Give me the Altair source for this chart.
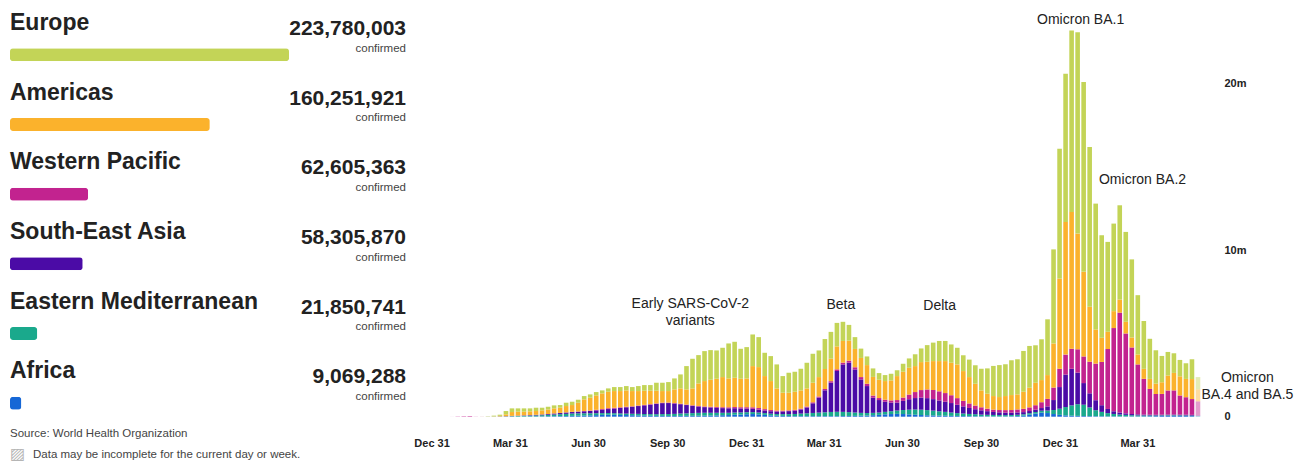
import altair as alt
import pandas as pd

# ---------------- left panel data ----------------
REGIONS = ["Europe", "Americas", "Western Pacific", "South-East Asia",
           "Eastern Mediterranean", "Africa"]
TOTALS = [223780003, 160251921, 62605363, 58305870, 21850741, 9069288]
COLORS = ["#c3d457", "#fbb22c", "#c2238f", "#4b0ba6", "#1aa98c", "#1667d6"]
STACK_ORDER = ["Africa", "Eastern Mediterranean", "South-East Asia",
               "Western Pacific", "Americas", "Europe"]

# ---------------- weekly new cases (millions), weeks from 2020-01-06 ----------------
AFR = [0, 0, 0, 0, 0, 0, 0, 0, 0, 0.001,
       0.002, 0.004, 0.007, 0.01, 0.012, 0.014, 0.017, 0.02, 0.025, 0.03,
       0.035, 0.04, 0.05, 0.06, 0.07, 0.08, 0.095, 0.11, 0.12, 0.12,
       0.11, 0.1, 0.09, 0.08, 0.07, 0.06, 0.05, 0.05, 0.045, 0.045,
       0.05, 0.05, 0.055, 0.06, 0.065, 0.07, 0.08, 0.09, 0.1, 0.12,
       0.13, 0.15, 0.16, 0.14, 0.11, 0.08, 0.06, 0.05, 0.04, 0.035,
       0.035, 0.035, 0.035, 0.035, 0.035, 0.035, 0.035, 0.04, 0.045, 0.05,
       0.06, 0.07, 0.09, 0.11, 0.14, 0.16, 0.17, 0.16, 0.14, 0.12,
       0.1, 0.085, 0.075, 0.065, 0.06, 0.05, 0.045, 0.04, 0.035, 0.03,
       0.025, 0.022, 0.02, 0.02, 0.02, 0.025, 0.04, 0.07, 0.13, 0.19,
       0.25, 0.22, 0.16, 0.11, 0.08, 0.06, 0.05, 0.04, 0.035, 0.03,
       0.03, 0.025, 0.025, 0.02, 0.02, 0.02, 0.02, 0.025, 0.03, 0.035,
       0.045, 0.05, 0.05, 0.045, 0.04, 0.035, 0.02]

EMR = [0, 0, 0, 0, 0, 0, 0, 0.001, 0.003, 0.006,
       0.01, 0.017, 0.025, 0.035, 0.045, 0.055, 0.06, 0.07, 0.085, 0.1,
       0.115, 0.13, 0.14, 0.14, 0.135, 0.125, 0.115, 0.105, 0.1, 0.09,
       0.085, 0.085, 0.085, 0.09, 0.09, 0.095, 0.1, 0.105, 0.115, 0.125,
       0.14, 0.15, 0.16, 0.17, 0.17, 0.165, 0.155, 0.145, 0.135, 0.13,
       0.125, 0.12, 0.115, 0.11, 0.105, 0.1, 0.1, 0.105, 0.115, 0.13,
       0.15, 0.17, 0.19, 0.21, 0.23, 0.25, 0.26, 0.25, 0.23, 0.2,
       0.17, 0.15, 0.14, 0.14, 0.15, 0.17, 0.2, 0.24, 0.28, 0.31,
       0.32, 0.31, 0.29, 0.26, 0.23, 0.2, 0.17, 0.15, 0.13, 0.12,
       0.1, 0.09, 0.085, 0.08, 0.075, 0.075, 0.075, 0.075, 0.08, 0.09,
       0.11, 0.15, 0.24, 0.37, 0.5, 0.62, 0.7, 0.68, 0.52, 0.36,
       0.26, 0.19, 0.14, 0.11, 0.09, 0.07, 0.06, 0.05, 0.045, 0.04,
       0.035, 0.035, 0.035, 0.035, 0.035, 0.03, 0.02]

SEAR = [0, 0, 0, 0, 0, 0, 0, 0, 0.0005, 0.001,
        0.002, 0.004, 0.007, 0.011, 0.016, 0.022, 0.03, 0.04, 0.05, 0.06,
        0.07, 0.08, 0.09, 0.1, 0.12, 0.14, 0.17, 0.2, 0.24, 0.28,
        0.33, 0.38, 0.42, 0.47, 0.52, 0.57, 0.62, 0.66, 0.66, 0.62,
        0.56, 0.5, 0.44, 0.38, 0.34, 0.32, 0.3, 0.28, 0.27, 0.26,
        0.24, 0.22, 0.2, 0.18, 0.16, 0.15, 0.15, 0.16, 0.18, 0.2,
        0.25, 0.35, 0.58, 0.9, 1.32, 1.76, 2.45, 2.85, 2.97, 2.59,
        2.01, 1.62, 0.91, 0.75, 0.61, 0.52, 0.48, 0.55, 0.63, 0.69,
        0.73, 0.72, 0.69, 0.65, 0.61, 0.57, 0.5, 0.43, 0.36, 0.3,
        0.26, 0.22, 0.18, 0.16, 0.15, 0.14, 0.14, 0.13, 0.13, 0.14,
        0.16, 0.25, 0.6, 1.3, 1.95, 2.2, 1.9, 1.3, 0.85, 0.6,
        0.4, 0.25, 0.16, 0.12, 0.09, 0.07, 0.06, 0.05, 0.045, 0.04,
        0.04, 0.04, 0.045, 0.045, 0.045, 0.045, 0.03]

WPR = [0, 0.0005, 0.002, 0.012, 0.022, 0.03, 0.006, 0.004, 0.003, 0.005,
       0.008, 0.01, 0.012, 0.014, 0.012, 0.01, 0.008, 0.006, 0.006, 0.007,
       0.008, 0.01, 0.012, 0.015, 0.02, 0.025, 0.035, 0.045, 0.05, 0.045,
       0.04, 0.035, 0.03, 0.03, 0.03, 0.03, 0.03, 0.03, 0.03, 0.03,
       0.03, 0.03, 0.03, 0.035, 0.04, 0.045, 0.05, 0.055, 0.06, 0.07,
       0.075, 0.08, 0.09, 0.09, 0.08, 0.07, 0.06, 0.05, 0.045, 0.045,
       0.05, 0.055, 0.06, 0.07, 0.08, 0.09, 0.1, 0.11, 0.12, 0.13,
       0.14, 0.14, 0.13, 0.12, 0.12, 0.13, 0.15, 0.2, 0.28, 0.36,
       0.45, 0.52, 0.55, 0.55, 0.52, 0.47, 0.4, 0.33, 0.27, 0.22,
       0.18, 0.15, 0.14, 0.14, 0.15, 0.16, 0.18, 0.2, 0.22, 0.27,
       0.35, 0.45, 0.75, 1.1, 1.2, 1.2, 1.4, 1.6, 1.9, 2.2,
       2.6, 3.6, 5.0, 6.0, 4.8, 4.0, 3.0, 2.15, 1.55, 1.25,
       1.25, 1.45, 1.45, 1.15, 1.05, 0.95, 0.85]

AMR = [0, 0, 0, 0, 0, 0, 0, 0, 0.001, 0.005,
       0.028, 0.105, 0.229, 0.23, 0.215, 0.219, 0.225, 0.244, 0.274, 0.303,
       0.312, 0.38, 0.408, 0.525, 0.695, 0.77, 0.865, 0.94, 0.99, 1.005,
       0.975, 0.98, 0.915, 0.87, 0.85, 0.805, 0.76, 0.695, 0.69, 0.82,
       0.92, 0.91, 1.015, 1.355, 1.525, 1.62, 1.695, 1.81, 1.735, 1.76,
       1.71, 1.73, 2.475, 2.46, 1.985, 1.74, 1.33, 1.075, 1.06, 1.09,
       1.095, 1.09, 1.175, 1.165, 1.2, 1.35, 1.38, 1.3, 1.2, 1.1,
       1.15, 1.12, 1.12, 1.1, 1.12, 1.2, 1.44, 1.55, 1.61, 1.56,
       1.68, 1.665, 1.735, 1.815, 1.92, 1.95, 2.025, 1.79, 1.585, 1.31,
       1.015, 0.9, 0.815, 0.78, 0.845, 0.9, 0.905, 1.025, 1.18, 1.35,
       1.33, 1.43, 2.65, 5.42, 7.97, 8.22, 6.95, 5.08, 3.3, 2.05,
       1.45, 1.035, 1.015, 0.79, 0.7, 0.6, 0.6, 0.6, 0.6, 0.62,
       0.7, 0.9, 1.05, 1.15, 1.1, 1.2, 0.72]

EUR = [0, 0, 0, 0, 0, 0, 0, 0.003, 0.015, 0.045,
       0.07, 0.2, 0.22, 0.2, 0.2, 0.18, 0.2, 0.16, 0.16, 0.18,
       0.16, 0.2, 0.2, 0.18, 0.2, 0.2, 0.2, 0.18, 0.2, 0.24,
       0.24, 0.26, 0.24, 0.3, 0.34, 0.34, 0.48, 0.5, 0.54, 0.66,
       0.84, 1.4, 1.78, 1.7, 1.8, 1.78, 1.7, 1.76, 2.1, 2.16,
       1.8, 1.88, 1.9, 1.8, 1.4, 1.5, 1.44, 1.0, 1.2, 1.2,
       1.3, 1.54, 1.74, 1.6, 1.8, 1.61, 1.41, 1.15, 0.95, 0.71,
       0.56, 0.52, 0.51, 0.4, 0.36, 0.4, 0.35, 0.48, 0.56, 0.71,
       0.82, 1.0, 1.11, 1.21, 1.21, 1.1, 1.0, 0.95, 1.05, 1.11,
       1.3, 1.52, 1.81, 1.92, 1.91, 2.09, 2.11, 2.45, 2.51, 2.25,
       2.45, 3.35, 5.65, 7.8, 8.9, 10.9, 12.1, 11.4, 9.6, 7.56,
       6.16, 5.4, 5.26, 5.66, 5.4, 4.69, 3.56, 2.875, 2.41, 2.005,
       1.58, 1.415, 1.18, 0.985, 0.94, 1.19, 0.74]

SERIES = {"Africa": AFR, "Eastern Mediterranean": EMR, "South-East Asia": SEAR,
          "Western Pacific": WPR, "Americas": AMR, "Europe": EUR}

FIRST_WEEK = "2020-01-06"
N_WEEKS = len(EUR)
week_start = pd.date_range(FIRST_WEEK, periods=N_WEEKS, freq="7D")
week_mid = week_start + pd.Timedelta(hours=84)

rows = []
for i, reg in enumerate(STACK_ORDER):
    vals = SERIES[reg]
    for k in range(N_WEEKS):
        rows.append({"date": week_mid[k].strftime("%Y-%m-%dT%H:%M:%S"),
                     "region": reg, "value": vals[k], "order": i,
                     "partial": 1 if k == N_WEEKS - 1 else 0})
weekly = pd.DataFrame(rows)

# annotations
ANN_TEXT = ["Early SARS-CoV-2", "variants", "Beta", "Delta", "Omicron BA.1",
            "Omicron BA.2", "Omicron", "BA.4 and BA.5"]
ANN_DATE = ["2020-10-27", "2020-10-27", "2021-04-20", "2021-08-13", "2022-01-24",
            "2022-04-06", "2022-08-06", "2022-08-06"]
ANN_VALUE = [6.77, 5.75, 6.71, 6.65, 23.85, 14.2, 2.34, 1.3]
ann = pd.DataFrame({"text": ANN_TEXT, "date": ANN_DATE, "value": ANN_VALUE})

TICK_DATES = [(2019, 12, 31), (2020, 3, 31), (2020, 6, 30), (2020, 9, 30),
              (2020, 12, 31), (2021, 3, 31), (2021, 6, 30), (2021, 9, 30),
              (2021, 12, 31), (2022, 3, 31)]

color_scale = alt.Scale(domain=REGIONS, range=COLORS)

# ---------------- right: stacked weekly bars ----------------
x_scale = alt.Scale(domain=[alt.DateTime(year=2019, month=12, date=21),
                            alt.DateTime(year=2022, month=6, date=20)])
y_scale = alt.Scale(domain=[0, 24.43], nice=False, zero=True)

x_enc = alt.X("date:T", scale=x_scale,
              axis=alt.Axis(values=[alt.DateTime(year=a, month=b, date=c) for a, b, c in TICK_DATES],
                            format="%b %d", title=None, grid=False, domain=False,
                            ticks=False, labelPadding=21, labelFontSize=11,
                            labelFontWeight="bold", labelColor="#222"))

bars = alt.Chart(weekly).mark_bar(width=4.6).encode(
    x=x_enc,
    y=alt.Y("value:Q", stack="zero", scale=y_scale,
            axis=alt.Axis(orient="right", values=[0, 10, 20], title=None,
                          labelExpr="datum.value == 0 ? '0' : datum.value + 'm'",
                          grid=False, domain=False, ticks=False, labelPadding=12,
                          labelFontSize=11, labelFontWeight="bold", labelColor="#222")),
    color=alt.Color("region:N", scale=color_scale, legend=None),
    order=alt.Order("order:Q", sort="ascending"),
    opacity=alt.condition("datum.partial == 1", alt.value(0.45), alt.value(1.0)),
)

labels = alt.Chart(ann).mark_text(fontSize=14, color="#222", baseline="middle",
                                  align="center").encode(
    x=alt.X("date:T", scale=x_scale),
    y=alt.Y("value:Q", scale=y_scale),
    text="text:N",
)

right = alt.layer(bars, labels).properties(width=794, height=406.7)

# ---------------- left: region totals ----------------
left_df = pd.DataFrame({"region": REGIONS, "total": TOTALS})
y_band = alt.Y("region:N", sort=REGIONS,
               scale=alt.Scale(domain=REGIONS, range=[1, 419],
                               paddingInner=0, paddingOuter=0),
               axis=None)
base = alt.Chart(left_df)

names = base.mark_text(align="left", baseline="middle", dy=-22.8, fontSize=23,
                       fontWeight="bold", color="#222").encode(
    x=alt.value(0), y=y_band, text="region:N")
nums = base.mark_text(align="right", baseline="middle", dy=-16.8, fontSize=21,
                      fontWeight="bold", color="#222").encode(
    x=alt.value(396), y=y_band, text=alt.Text("total:Q", format=","))
conf = base.mark_text(align="right", baseline="middle", dy=2.7, fontSize=11.5,
                      color="#444").encode(
    x=alt.value(396), y=y_band, text=alt.value("confirmed"))
lbars = base.mark_bar(size=13, cornerRadius=3, yOffset=9).encode(
    x=alt.X("total:Q", scale=alt.Scale(domain=[0, TOTALS[0]], range=[0, 279]), axis=None),
    y=y_band,
    color=alt.Color("region:N", scale=color_scale, legend=None))

notes = pd.DataFrame({"t": ["Source: World Health Organization"]})
src = alt.Chart(notes).mark_text(align="left", baseline="middle", fontSize=11.5,
                                 color="#444").encode(
    x=alt.value(0), y=alt.value(424), text="t:N")
disc_df = pd.DataFrame({"t": ["Data may be incomplete for the current day or week."]})
disc = alt.Chart(disc_df).mark_text(align="left", baseline="middle", fontSize=11.5,
                                    color="#444").encode(
    x=alt.value(23), y=alt.value(445), text="t:N")
icon_df = pd.DataFrame({"t": ["▨"]})
icon = alt.Chart(icon_df).mark_text(align="left", baseline="middle", fontSize=16,
                                    color="#b5b5b5", font="DejaVu Sans").encode(
    x=alt.value(0), y=alt.value(444), text="t:N")

left = alt.layer(lbars, names, nums, conf, src, disc, icon).properties(width=398, height=451)

chart = alt.hconcat(left, right, spacing=10, bounds="flush").properties(
    padding={"left": 2, "top": 2, "right": 0, "bottom": 0},
    background="white",
).configure(font="Liberation Sans").configure_view(stroke=None)

chart.save("out.html", embed_options={"renderer": "svg", "actions": False})
